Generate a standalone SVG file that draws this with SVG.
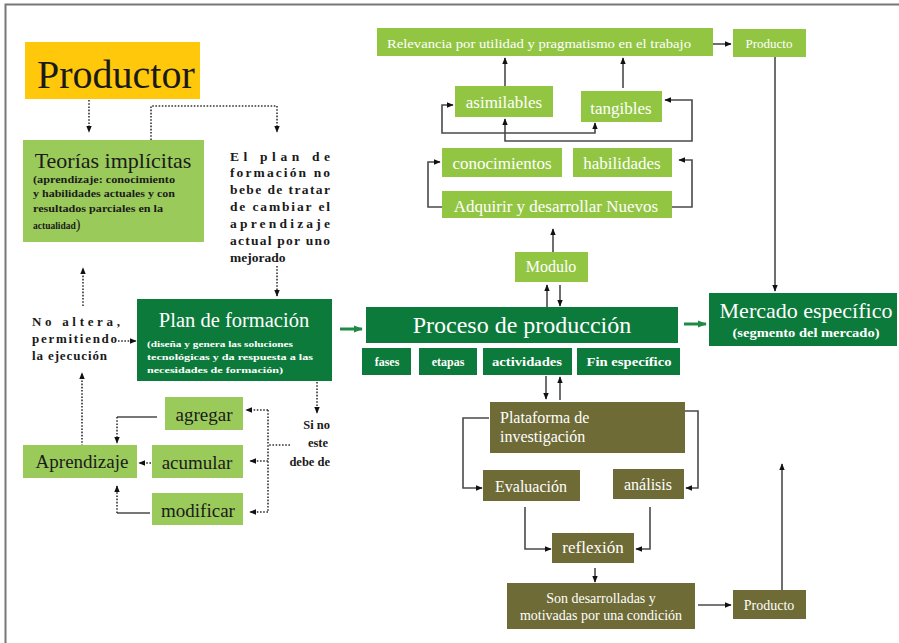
<svg xmlns="http://www.w3.org/2000/svg" width="899" height="643" viewBox="0 0 899 643">
<style>
.serif{font-family:"Liberation Serif","Times New Roman",serif}
.lg{fill:#92C642}
.lg2{fill:#9ACB5A}
.dg{fill:#0C7A3B}
.ol{fill:#6E6B36}
.wt{fill:#ffffff;font-family:"Liberation Serif","Times New Roman",serif}
.bk{fill:#1a1a1a;font-family:"Liberation Serif","Times New Roman",serif}
.b{font-weight:bold}
.c{text-anchor:middle}
.dot{fill:none;stroke:#333;stroke-width:1.6;stroke-dasharray:1.6 1.6}
.sol{fill:none;stroke:#4a4a4a;stroke-width:1.6}
.grn{fill:none;stroke:#1E8B45;stroke-width:3}
</style>
<defs>
<marker id="a" viewBox="0 0 10 10" refX="9" refY="5" markerWidth="7" markerHeight="7" orient="auto-start-reverse" markerUnits="userSpaceOnUse"><path d="M0,1 L10,5 L0,9z" fill="#111"/></marker>
<marker id="g" viewBox="0 0 10 10" refX="9" refY="5" markerWidth="9" markerHeight="9" orient="auto" markerUnits="userSpaceOnUse"><path d="M0,1 L10,5 L0,9z" fill="#1E8B45"/></marker>
</defs>
<rect width="899" height="643" fill="#ffffff"/>
<path d="M5.5,643 V4.5 H899" fill="none" stroke="#777" stroke-width="2"/>

<g id="connectors">
<path class="dot" d="M89,100 V132" marker-end="url(#a)"/>
<path class="dot" d="M151,140 V106 H277 V132" marker-end="url(#a)"/>
<path class="dot" d="M277,266 V296" marker-end="url(#a)"/>
<path class="dot" d="M83,306 V268" marker-end="url(#a)"/>
<path class="dot" d="M118,341 H136" marker-end="url(#a)"/>
<path class="dot" d="M82,446 V373" marker-end="url(#a)"/>
<path class="dot" d="M317,382 V413" marker-end="url(#a)"/>
<path class="dot" d="M290,445 H268"/>
<path class="dot" d="M268,410 V512"/>
<path class="dot" d="M268,410 H246" marker-end="url(#a)"/>
<path class="dot" d="M268,461 H250" marker-end="url(#a)"/>
<path class="dot" d="M268,512 H250" marker-end="url(#a)"/>
<path class="sol" d="M157,417 H117"/>
<path class="dot" d="M117,417 V443" marker-end="url(#a)"/>
<path class="dot" d="M151,463 H139" marker-end="url(#a)"/>
<path class="sol" d="M150,513 H117"/>
<path class="dot" d="M117,513 V486" marker-end="url(#a)"/>

<path class="grn" d="M340,329 H362" marker-end="url(#g)"/>
<path class="grn" d="M684,324 H706" marker-end="url(#g)"/>

<path class="sol" d="M547,307 V285" marker-end="url(#a)"/>
<path class="sol" d="M560,285 V306" marker-end="url(#a)"/>
<path class="sol" d="M553,252 V229" marker-end="url(#a)"/>
<path class="sol" d="M546,376 V399" marker-end="url(#a)"/>
<path class="sol" d="M560,400 V377" marker-end="url(#a)"/>
<path class="sol" d="M489,418 H463 V488 H482" marker-end="url(#a)"/>
<path class="sol" d="M685,411 H698 V488 H686" marker-end="url(#a)"/>
<path class="sol" d="M525,507 V549 H551" marker-end="url(#a)"/>
<path class="sol" d="M650,507 V549 H636" marker-end="url(#a)"/>
<path class="sol" d="M595,568 V582" marker-end="url(#a)"/>
<path class="sol" d="M698,605 H731" marker-end="url(#a)"/>
<path class="sol" d="M782,590 V464" marker-end="url(#a)"/>

<path class="sol" d="M713,44 H731" marker-end="url(#a)"/>
<path class="sol" d="M775,57 V291" marker-end="url(#a)"/>
<path class="sol" d="M505,86 V58" marker-end="url(#a)"/>
<path class="sol" d="M623,88 V58" marker-end="url(#a)"/>
<path class="sol" d="M595,123 V133 H442 V105 H453" marker-start="url(#a)" marker-end="url(#a)"/>
<path class="sol" d="M505,119 V141 H692 V100 H665" marker-start="url(#a)" marker-end="url(#a)"/>
<path class="sol" d="M442,207 H428 V162 H440" marker-end="url(#a)"/>
<path class="sol" d="M672,207 H692 V160 H679" marker-end="url(#a)"/>
</g>

<g id="productor">
<rect x="25" y="42" width="175" height="57" fill="#FFC80A"/>
<text class="bk" x="37" y="88" font-size="40">Productor</text>
</g>

<g id="teorias">
<rect class="lg2" x="23" y="140" width="181" height="102"/>
<text class="bk c" x="113" y="168" font-size="22">Teorías implícitas</text>
<text class="bk b" x="33" y="183" font-size="9.5" textLength="142" lengthAdjust="spacingAndGlyphs">(aprendizaje: conocimiento</text>
<text class="bk b" x="33" y="197" font-size="9.5" textLength="142" lengthAdjust="spacingAndGlyphs">y habilidades actuales y con</text>
<text class="bk b" x="33" y="212" font-size="9.5" textLength="130" lengthAdjust="spacingAndGlyphs">resultados parciales en la</text>
<text class="bk b" x="33" y="229" font-size="9.5">actualidad<tspan font-size="14" font-weight="normal">)</tspan></text>
</g>

<g id="elplan">
<text class="bk b" x="230" y="161" font-size="13.5" textLength="100" lengthAdjust="spacing">El plan de</text>
<text class="bk b" x="230" y="177" font-size="13.5" textLength="100" lengthAdjust="spacing">formación no</text>
<text class="bk b" x="230" y="194" font-size="13.5" textLength="100" lengthAdjust="spacing">bebe de tratar</text>
<text class="bk b" x="230" y="211" font-size="13.5" textLength="100" lengthAdjust="spacing">de cambiar el</text>
<text class="bk b" x="230" y="228" font-size="13.5" textLength="100" lengthAdjust="spacing">aprendizaje</text>
<text class="bk b" x="230" y="245" font-size="13.5" textLength="100" lengthAdjust="spacing">actual por uno</text>
<text class="bk b" x="230" y="262" font-size="13.5">mejorado</text>
</g>

<g id="noaltera">
<text class="bk b" x="32" y="326" font-size="13" textLength="88" lengthAdjust="spacing">No altera,</text>
<text class="bk b" x="32" y="343" font-size="13" textLength="85" lengthAdjust="spacing">permitiendo</text>
<text class="bk b" x="32" y="360" font-size="13" textLength="75" lengthAdjust="spacing">la ejecución</text>
</g>

<g id="plan">
<rect class="dg" x="137" y="299" width="195" height="82"/>
<text class="wt c" x="234" y="327" font-size="20.5">Plan de formación</text>
<text class="wt b" x="147" y="347" font-size="9" textLength="146" lengthAdjust="spacingAndGlyphs">(diseña y genera las soluciones</text>
<text class="wt b" x="147" y="360" font-size="9" textLength="166" lengthAdjust="spacingAndGlyphs">tecnológicas y da respuesta a las</text>
<text class="wt b" x="147" y="373" font-size="9" textLength="136" lengthAdjust="spacingAndGlyphs">necesidades de formación)</text>
</g>

<g id="sino">
<text class="bk b" x="330" y="429" font-size="12.5" text-anchor="end">Si no</text>
<text class="bk b" x="328" y="447" font-size="12.5" text-anchor="end">este</text>
<text class="bk b" x="330" y="466" font-size="12.5" text-anchor="end">debe de</text>
</g>

<g id="agregar">
<rect class="lg2" x="165" y="397" width="78" height="33"/>
<text class="bk c" x="204" y="421" font-size="19">agregar</text>
</g>
<g id="acumular">
<rect class="lg2" x="152" y="445" width="91" height="33"/>
<text class="bk c" x="197" y="469" font-size="19">acumular</text>
</g>
<g id="modificar">
<rect class="lg2" x="152" y="493" width="91" height="32"/>
<text class="bk c" x="198" y="517" font-size="19">modificar</text>
</g>
<g id="aprendizaje">
<rect class="lg2" x="23" y="445" width="114" height="33"/>
<text class="bk c" x="82" y="468" font-size="19">Aprendizaje</text>
</g>

<g id="relevancia">
<rect class="lg" x="377" y="28" width="336" height="28"/>
<text class="wt" x="387" y="48" font-size="12.5" textLength="304" lengthAdjust="spacingAndGlyphs">Relevancia por utilidad y pragmatismo en el trabajo</text>
</g>
<g id="producto1">
<rect class="lg" x="733" y="29" width="73" height="28"/>
<text class="wt c" x="769" y="48" font-size="13">Producto</text>
</g>
<g id="asimilables">
<rect class="lg" x="455" y="86" width="98" height="31"/>
<text class="wt c" x="504" y="108" font-size="17">asimilables</text>
</g>
<g id="tangibles">
<rect class="lg" x="581" y="91" width="81" height="31"/>
<text class="wt c" x="621" y="114" font-size="17">tangibles</text>
</g>
<g id="conocimientos">
<rect class="lg" x="442" y="148" width="120" height="29"/>
<text class="wt c" x="502" y="169" font-size="17">conocimientos</text>
</g>
<g id="habilidades">
<rect class="lg" x="573" y="148" width="99" height="29"/>
<text class="wt c" x="622" y="169" font-size="17">habilidades</text>
</g>
<g id="adquirir">
<rect class="lg" x="442" y="191" width="230" height="27"/>
<text class="wt c" x="556" y="212" font-size="17">Adquirir y desarrollar Nuevos</text>
</g>
<g id="modulo">
<rect class="lg" x="515" y="252" width="73" height="30"/>
<text class="wt c" x="551" y="272" font-size="16">Modulo</text>
</g>

<g id="proceso">
<rect class="dg" x="366" y="307" width="312" height="36"/>
<text class="wt c" x="522" y="333" font-size="24">Proceso de producción</text>
</g>
<g id="fases">
<rect class="dg" x="362" y="348" width="49" height="27"/>
<text class="wt b c" x="387" y="366" font-size="12">fases</text>
</g>
<g id="etapas">
<rect class="dg" x="419" y="348" width="58" height="27"/>
<text class="wt b c" x="448" y="366" font-size="12">etapas</text>
</g>
<g id="actividades">
<rect class="dg" x="483" y="348" width="89" height="27"/>
<text class="wt b c" x="527" y="366" font-size="12" textLength="70" lengthAdjust="spacingAndGlyphs">actividades</text>
</g>
<g id="fin">
<rect class="dg" x="577" y="348" width="103" height="27"/>
<text class="wt b c" x="629" y="366" font-size="12" textLength="85" lengthAdjust="spacingAndGlyphs">Fin específico</text>
</g>

<g id="mercado">
<rect class="dg" x="709" y="293" width="188" height="53"/>
<text class="wt c" x="806" y="318" font-size="22">Mercado específico</text>
<text class="wt b c" x="806" y="337" font-size="12" textLength="147" lengthAdjust="spacingAndGlyphs">(segmento del mercado)</text>
</g>

<g id="plataforma">
<rect class="ol" x="490" y="402" width="195" height="51"/>
<text class="wt" x="500" y="423" font-size="16">Plataforma de</text>
<text class="wt" x="500" y="442" font-size="16">investigación</text>
</g>
<g id="evaluacion">
<rect class="ol" x="483" y="470" width="97" height="31"/>
<text class="wt c" x="531" y="492" font-size="16">Evaluación</text>
</g>
<g id="analisis">
<rect class="ol" x="613" y="469" width="71" height="30"/>
<text class="wt c" x="648" y="490" font-size="16">análisis</text>
</g>
<g id="reflexion">
<rect class="ol" x="552" y="533" width="82" height="30"/>
<text class="wt c" x="593" y="553" font-size="17">reflexión</text>
</g>
<g id="son">
<rect class="ol" x="507" y="583" width="188" height="46"/>
<text class="wt c" x="601" y="603" font-size="14">Son desarrolladas y</text>
<text class="wt c" x="601" y="620" font-size="14">motivadas por una condición</text>
</g>
<g id="producto2">
<rect class="ol" x="733" y="590" width="73" height="29"/>
<text class="wt c" x="769" y="610" font-size="14">Producto</text>
</g>
</svg>
